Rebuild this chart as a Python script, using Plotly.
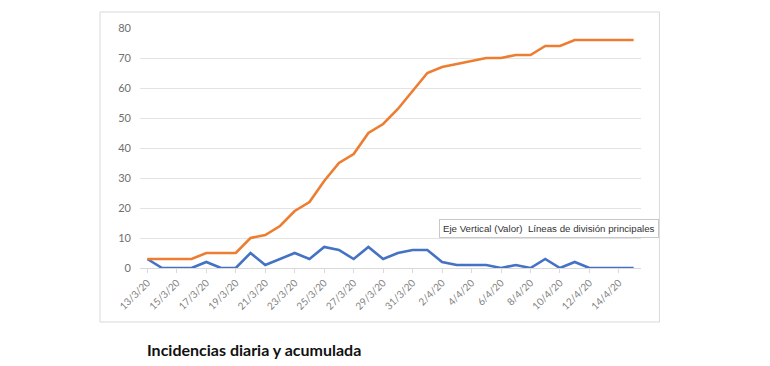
import plotly.graph_objects as go

dates = ["13/3/20","14/3/20","15/3/20","16/3/20","17/3/20","18/3/20","19/3/20","20/3/20",
         "21/3/20","22/3/20","23/3/20","24/3/20","25/3/20","26/3/20","27/3/20","28/3/20",
         "29/3/20","30/3/20","31/3/20","1/4/20","2/4/20","3/4/20","4/4/20","5/4/20",
         "6/4/20","7/4/20","8/4/20","9/4/20","10/4/20","11/4/20","12/4/20","13/4/20",
         "14/4/20","15/4/20"]
diaria = [3,0,0,0,2,0,0,5,1,3,5,3,7,6,3,7,3,5,6,6,2,1,1,1,0,1,0,3,0,2,0,0,0,0]
acumulada = [3,3,3,3,5,5,5,10,11,14,19,22,29,35,38,45,48,53,59,65,67,68,69,70,70,71,71,74,74,76,76,76,76,76]
yticks = [0,10,20,30,40,50,60,70,80]
title_text = "Incidencias diaria y acumulada"
tooltip_text = "Eje Vertical (Valor)  Líneas de división principales"

W = 501.5
H = 240.0

def px(X):
    return (X - 140) / W

def py(Y):
    return (268 - Y) / H

fig = go.Figure()
fig.add_trace(go.Scatter(x=dates, y=diaria, mode="lines", name="Diaria",
                         line=dict(color="#4472C4", width=2.6)))
fig.add_trace(go.Scatter(x=dates, y=acumulada, mode="lines", name="Acumulada",
                         line=dict(color="#ED7D31", width=2.6)))

fig.update_layout(
    width=770, height=366,
    margin=dict(l=132, r=136.5, t=20, b=106),
    paper_bgcolor="white", plot_bgcolor="white",
    showlegend=False,
    font=dict(family="Lato, Liberation Sans, sans-serif", color="#7f7f7f", size=10),
    xaxis=dict(type="category", range=[-0.5, len(dates) - 0.5],
               tickvals=dates[::2], ticktext=dates[::2], tickangle=-45,
               showgrid=False, showline=True, linecolor="#d9d9d9", linewidth=1,
               ticks="outside", ticklen=4, tickcolor="#d9d9d9",
               tickfont=dict(size=10, color="#7f7f7f")),
    yaxis=dict(range=[0, 80], tickvals=yticks, showgrid=True, gridcolor="#e3e3e3",
               gridwidth=1, zeroline=False, showline=False,
               tickfont=dict(size=11, color="#6f6f6f"), ticklabelstandoff=8),
    shapes=[dict(type="rect", xref="paper", yref="paper",
                 x0=px(100), x1=px(660), y0=py(322), y1=py(12),
                 line=dict(color="#d9d9d9", width=1), layer="below")],
    annotations=[
        dict(text=title_text, xref="paper", yref="paper",
             x=px(145), y=py(349), xanchor="left", yanchor="middle",
             showarrow=False,
             font=dict(family="Lato, Liberation Sans, sans-serif", size=16, color="#111111",
                       weight="bold")),
        dict(text=tooltip_text, xref="paper", yref="paper",
             x=px(660), y=py(228), xanchor="right", yanchor="middle",
             showarrow=False, bgcolor="white", bordercolor="#c8c8c8", borderwidth=1,
             borderpad=3,
             font=dict(family="Liberation Sans, sans-serif", size=9.7, color="#333333")),
    ],
)

fig.write_html("out.html")
